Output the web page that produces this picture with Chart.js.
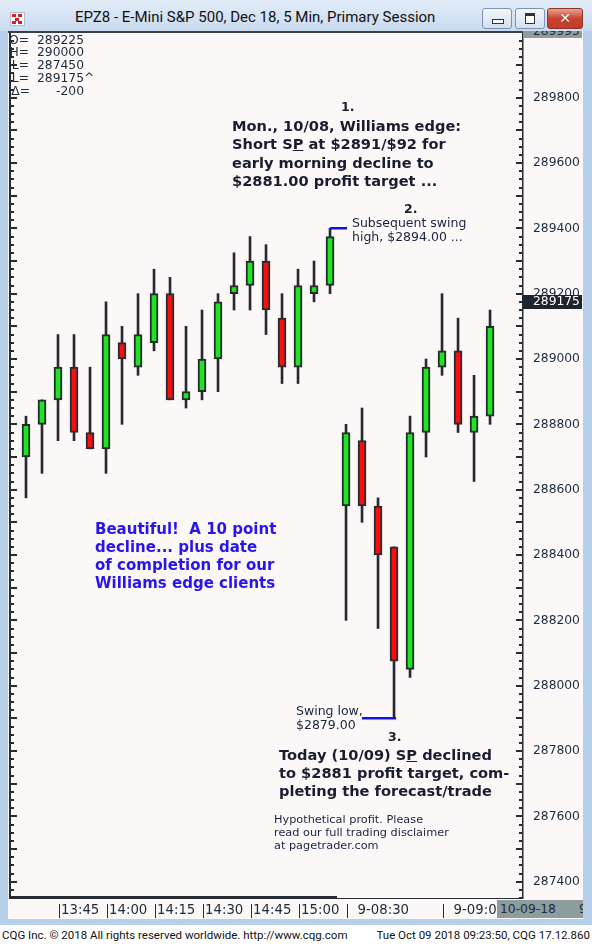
<!DOCTYPE html>
<html>
<head>
<meta charset="utf-8">
<script src="https://cdn.jsdelivr.net/npm/chart.js@4.4.1/dist/chart.umd.min.js"></script>
<style>
  body { margin: 0; width: 592px; height: 944px; position: relative; overflow: hidden; background: #fff; font-family: "DejaVu Sans", sans-serif; }
  .abs { position: absolute; }
  #frame { left: 0; top: 0; width: 592px; height: 925px; background: #b7cfe9; }
  #titlebar { left: 0; top: 0; width: 592px; height: 31px; background: linear-gradient(#e2ecf8, #c9dbef); }
  #title { left: 75px; top: 8px; font: 15px Roboto, sans-serif; color: #111; white-space: nowrap; }
  #icon { left: 10px; top: 12px; width: 13px; height: 12px; background: #fff; border: 1px solid #b8b8c8; }
  #icon i { position: absolute; width: 4px; height: 3px; background: #d0202a; }
  .btn { top: 8px; height: 19px; border: 1px solid #7d93ad; border-radius: 3px; background: linear-gradient(#f4f7fb, #d3e0ee); }
  #plot { left: 8px; top: 31px; width: 575px; height: 888px; background: #fbf8f7; }
  #topline { left: 8px; top: 31px; width: 515px; height: 2px; background: #3a4048; }
  #scrollbar { left: 9px; top: 896px; width: 328px; height: 3px; background: #262b33; }
  #scroll2 { left: 337px; top: 898px; width: 186px; height: 1px; background: #262b33; }
  #maxbox { left: 523px; top: 31px; width: 59px; height: 7px; background: #8d9c9c; overflow: hidden; }
  #maxbox span { position: absolute; left: 10px; top: -7px; font-size: 12.3px; color: #1b2a3e; }
  #datebox { left: 497px; top: 900px; width: 86px; height: 18px; background: #8d9c9c; overflow: hidden; font-size: 12.3px; color: #1b2a3e; line-height: 18px; white-space: pre; }
  #datebox span { position: absolute; top: 0; }
  #rightframe { left: 583px; top: 31px; width: 9px; height: 894px; background: #b7cfe9; }
  #footer { left: 0; top: 925px; width: 592px; height: 19px; background: #fff; font: 11.5px Roboto, sans-serif; color: #111; line-height: 21px; }
  #ohlc { left: 10px; top: 33px; width: 100px; height: 70px; overflow: hidden; font-size: 12.3px; color: #1b2a3e; }
  #ohlc div { position: absolute; height: 13px; line-height: 13px; white-space: nowrap; }
  .ann { position: absolute; white-space: nowrap; color: #1c1c30; }
  .b { font-weight: bold; font-size: 14.6px; line-height: 18.3px; }
  .n { font-size: 12.5px; line-height: 14px; color: #1a2340; }
  .num { font-weight: bold; font-size: 12.5px; line-height: 15px; }
  canvas { position: absolute; left: 8px; top: 31px; }
</style>
</head>
<body>
<div id="frame" class="abs"></div>
<div id="titlebar" class="abs"></div>
<div id="icon" class="abs"><i style="left:1px;top:1px"></i><i style="left:7px;top:1px"></i><i style="left:4px;top:5px"></i><i style="left:1px;top:8px"></i><i style="left:7px;top:8px"></i></div>
<div id="title" class="abs">EPZ8 - E-Mini S&amp;P 500, Dec 18, 5 Min, Primary Session</div>
<div class="abs btn" style="left:482px;width:28px"><div class="abs" style="left:9px;top:10px;width:10px;height:3px;background:#fff;border:1px solid #333"></div></div>
<div class="abs btn" style="left:515px;width:28px"><div class="abs" style="left:9px;top:4px;width:8px;height:7px;border:1px solid #333;border-top-width:3px;background:#fff"></div></div>
<div class="abs btn" style="left:547px;width:34px;border-color:#8a3326;background:linear-gradient(#e9a394,#c8432f 50%,#c23a28)"><div class="abs" style="left:0;top:0;width:34px;text-align:center;font:bold 14px 'DejaVu Sans';color:#fff;line-height:19px;text-shadow:0 0 1px #333">✕</div></div>
<div id="plot" class="abs"></div>
<div id="rightframe" class="abs"></div>
<canvas id="chart" width="575" height="888"></canvas>
<div id="topline" class="abs"></div>
<div id="scrollbar" class="abs"></div>
<div id="scroll2" class="abs"></div>
<div id="maxbox" class="abs"><span>289995</span></div>
<div id="datebox" class="abs"><span style="left:3px">10-09-18</span><span style="left:82px">9</span></div>
<div id="ohlc" class="abs"></div>

<div class="ann num" style="left:341px;top:99px">1.</div>
<div class="ann b" style="left:232px;top:117px">Mon., 10/08, Williams edge:<br>Short S<u>P</u> at $2891/$92 for<br>early morning decline to<br>$2881.00 profit target ...</div>
<div class="ann num" style="left:404px;top:201px">2.</div>
<div class="ann n" style="left:352px;top:215.5px">Subsequent swing<br>high, $2894.00 ...</div>
<div class="ann b" style="left:95px;top:519.5px;font-size:15px;line-height:18.2px;color:#2814f0">Beautiful!&nbsp; A 10 point<br>decline... plus date<br>of completion for our<br>Williams edge clients</div>
<div class="ann n" style="left:296px;top:704px">Swing low,<br>$2879.00</div>
<div class="ann num" style="left:388px;top:728.5px">3.</div>
<div class="ann b" style="left:279px;top:745.5px">Today (10/09) S<u>P</u> declined<br>to $2881 profit target, com-<br>pleting the forecast/trade</div>
<div class="ann n" style="left:274px;top:812.5px;font-size:11.3px;line-height:13.3px">Hypothetical profit. Please<br>read our full trading disclaimer<br>at pagetrader.com</div>

<div id="footer" class="abs">
  <span class="abs" style="left:2px">CQG Inc. © 2018 All rights reserved worldwide. http://www.cqg.com</span>
  <span class="abs" style="right:2px">Tue Oct 09 2018 09:23:50, CQG 17.12.860</span>
</div>

<script>
// 5 minute bars, EPZ8, 10/08 afternoon + 10/09 morning
const times = ['13:35','13:40','13:45','13:50','13:55','14:00','14:05','14:10','14:15','14:20',
               '14:25','14:30','14:35','14:40','14:45','14:50','14:55','15:00','15:05','15:10',
               '08:30','08:35','08:40','08:45','08:50','08:55','09:00','09:05','09:10','09:15']
const opens  = [288700,288800,288875,288975,288775,288725,289050,288975,289050,289200,
                288875,288900,289000,289200,289225,289300,289125,288975,289200,289225,
                288550,288750,288550,288425,288050,288775,288975,289025,288775,288825]
const highs  = [288825,288875,289075,289075,288975,289175,289100,289200,289275,289250,
                289100,289150,289200,289325,289375,289350,289200,289275,289300,289400,
                288800,288850,288575,288425,288825,289000,289200,289125,288950,289150]
const lows   = [288575,288650,288750,288750,288725,288650,288800,288950,289025,288875,
                288850,288875,288900,289150,289150,289075,288925,288925,289175,289200,
                288200,288500,288175,287900,288025,288700,288950,288775,288625,288800]
const closes = [288800,288875,288975,288775,288725,289075,289000,289075,289200,288875,
                288900,289000,289175,289225,289300,289150,288975,289225,289225,289375,
                288775,288550,288400,288075,288775,288975,289025,288800,288825,289100]

const priceTicks = [287400,287600,287800,288000,288200,288400,288600,288800,289000,289200,289400,289600,289800]
const timeTickIdx = [2,5,8,11,14,17,20,26]
const timeTickLabels = ['13:45','14:00','14:15','14:30','14:45','15:00','9-08:30','9-09:00']

const ohlcKeys = ['O=','H=','L=','L=','Δ=']
const ohlcValues = ['289225','290000','287450','289175','-200']
const ohlcSuffix = ['','','','^','']
const lastPrice = 289175

const swingHigh = { index: 19, price: 289400 }
const swingLow = { index: 23, price: 287900 }

// header box top-left
const ohlcBox = document.getElementById('ohlc')
ohlcKeys.forEach((k, i) => {
  const row = document.createElement('div')
  row.style.top = (0.5 + i * 12.9) + 'px'
  row.style.left = '0px'
  row.style.width = '100px'
  row.innerHTML = `<span style="position:absolute;right:${k === 'Δ=' ? 80 : 81}px">${k}</span>` +
    `<span style="position:absolute;right:26px">${ohlcValues[i]}</span>` +
    `<span style="position:absolute;left:74px">${ohlcSuffix[i]}</span>`
  ohlcBox.appendChild(row)
})

const GREEN = '#1ee61e'
const RED = '#ff0d0d'
const INK = '#262b33'

const up = closes.map((c, i) => c >= opens[i])
const bodies = opens.map((o, i) => ({ x: i, y: [Math.min(o, closes[i]), Math.max(o, closes[i])] }))
const wicks = highs.map((h, i) => ({ x: i, y: [lows[i], h] }))

const chrome = {
  id: 'chrome',
  afterDatasetsDraw(chart) {
    const { ctx, scales: { x, y } } = chart
    ctx.save()
    ctx.fillStyle = '#1212e6'
    const hy = Math.round(y.getPixelForValue(swingHigh.price))
    const hx0 = x.getPixelForValue(swingHigh.index)
    const hx1 = x.getPixelForValue(swingHigh.index + 1) + 1
    ctx.fillRect(hx0, hy - 1, hx1 - hx0, 2.5)
    const ly = Math.round(y.getPixelForValue(swingLow.price))
    const lx0 = x.getPixelForValue(swingLow.index - 2)
    const lx1 = x.getPixelForValue(swingLow.index) + 2
    ctx.fillRect(lx0, ly - 1, lx1 - lx0, 2.5)
    ctx.restore()
  },
  afterDraw(chart) {
    const { ctx, chartArea: a, scales: { x, y } } = chart
    ctx.save()
    ctx.fillStyle = INK
    // axis lines
    ctx.fillRect(a.left - 1, a.top, 2, a.bottom - a.top)
    ctx.fillRect(a.right - 1, a.top, 1.5, a.bottom - a.top)
    // inward ticks, 25 pt minor / 100 pt major
    for (let v = Math.ceil(y.min / 25) * 25; v <= y.max; v += 25) {
      const py = Math.round(y.getPixelForValue(v))
      const len = v % 100 === 0 ? 6 : 3
      ctx.fillRect(a.left + 1, py - 1, len, 2)
      ctx.fillRect(a.right - 1 - len, py - 1, len, 2)
    }
    // time separators
    x.ticks.forEach(t => {
      const px = Math.round(x.getPixelForValue(t.value)) + 1
      ctx.fillRect(px, a.bottom + 5, 1, 14)
    })
    // last price box
    const py = y.getPixelForValue(lastPrice)
    ctx.fillStyle = '#1d262e'
    ctx.fillRect(a.right, Math.round(py - 7), chart.width - a.right - 1, 14)
    ctx.fillStyle = '#ffffff'
    ctx.font = '12.3px "DejaVu Sans"'
    ctx.textBaseline = 'middle'
    ctx.fillText(String(lastPrice), a.right + 10, py)
    ctx.restore()
  }
}

new Chart(document.getElementById('chart'), {
  type: 'bar',
  data: {
    labels: times,
    datasets: [
      {
        label: 'bodies',
        data: bodies,
        backgroundColor: up.map(u => u ? GREEN : RED),
        borderColor: INK,
        borderWidth: 2,
        borderSkipped: false,
        barThickness: 8,
        grouped: false
      },
      {
        label: 'wicks',
        data: wicks,
        backgroundColor: INK,
        borderWidth: 0,
        barThickness: 2,
        grouped: false
      }
    ]
  },
  options: {
    responsive: false,
    animation: false,
    events: [],
    layout: { padding: { left: 2, top: 2, right: 0, bottom: 0 } },
    plugins: { legend: { display: false }, tooltip: { enabled: false } },
    scales: {
      x: {
        type: 'linear',
        min: -1,
        max: 31.06,
        offset: false,
        grid: { display: false, drawTicks: false },
        border: { display: false },
        afterBuildTicks: s => { s.ticks = timeTickIdx.map(v => ({ value: v })) },
        afterFit: s => { s.height = 20; s.paddingLeft = 0; s.paddingRight = 0 },
        ticks: {
          autoSkip: false,
          maxRotation: 0,
          align: 'start',
          labelOffset: 3,
          padding: 4,
          color: '#1b2a3e',
          font: { family: 'DejaVu Sans', size: 13.3 },
          callback: (v, i) => (timeTickLabels[i].includes('-') ? '  ' : '') + timeTickLabels[i]
        }
      },
      y: {
        position: 'right',
        min: 287347,
        max: 289998,
        grid: { display: false, drawTicks: false },
        border: { display: false },
        afterBuildTicks: s => { s.ticks = priceTicks.map(v => ({ value: v })) },
        afterFit: s => { s.width = 60; s.paddingTop = 0; s.paddingBottom = 0 },
        ticks: {
          padding: 10,
          color: '#1b2a3e',
          font: { family: 'DejaVu Sans', size: 12.3 },
          callback: v => String(v)
        }
      }
    }
  },
  plugins: [chrome]
})
</script>
</body>
</html>
